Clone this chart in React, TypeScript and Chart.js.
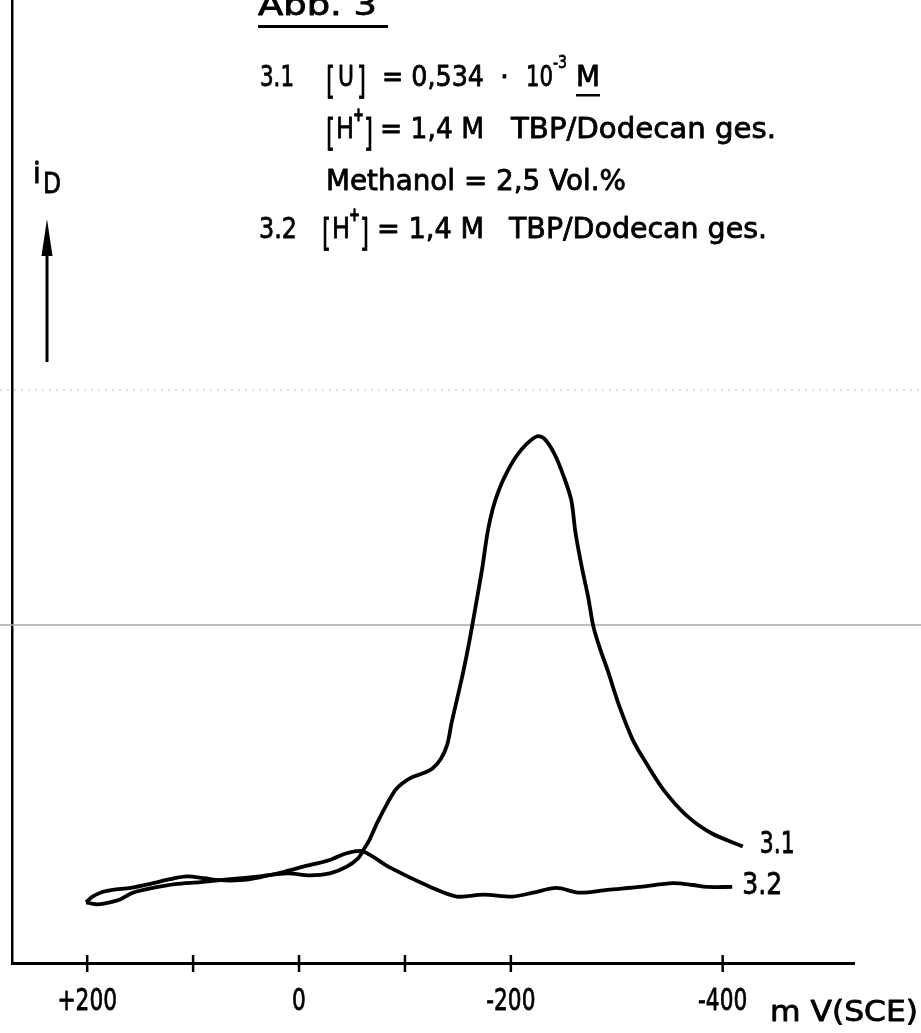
import React, { useEffect, useRef } from 'react';
import { Chart, registerables } from 'chart.js';

Chart.register(...registerables);

const FONT = '"DejaVu Sans", "Liberation Sans", sans-serif';

// Curve 3.1 : potential in mV (SCE) and diffusion current i_D (arbitrary units)
const curve31Potential = [201, 192, 183, 169, 157, 138, 117, 93, 65, 37, 11, -10, -29, -45, -56, -60, -67, -74, -83, -92, -105, -117, -126, -134, -140, -144, -149, -155, -161, -167, -173, -178, -183, -189, -196, -205, -215, -225, -232, -241, -249, -257, -261, -267, -273, -278, -284, -292, -302, -315, -327, -344, -366, -389, -419];
const curve31Current = [6.3, 6.1, 6.2, 6.6, 7.3, 7.8, 8.2, 8.4, 8.7, 9.0, 9.3, 9.1, 9.3, 10.0, 10.9, 11.6, 12.9, 14.6, 16.5, 18.1, 19.2, 19.7, 20.2, 21.2, 22.7, 24.9, 27.3, 30.2, 33.5, 37.2, 41.0, 44.7, 47.2, 49.2, 50.9, 52.6, 53.9, 54.7, 54.4, 52.9, 50.8, 48.1, 44.7, 41.1, 38.0, 34.9, 32.7, 30.2, 26.8, 23.2, 20.9, 18.0, 15.3, 13.5, 12.1];

// Curve 3.2 : blank
const curve32Potential = [201, 195, 185, 176, 159, 141, 122, 106, 89, 75, 56, 37, 13, -4, -29, -45, -60, -86, -124, -149, -174, -202, -221, -243, -265, -291, -322, -353, -372, -385, -409];
const curve32Current = [6.3, 6.9, 7.4, 7.6, 7.8, 8.2, 8.7, 9.0, 8.8, 8.6, 8.6, 8.9, 9.5, 10.0, 10.7, 11.4, 11.6, 9.9, 7.9, 6.9, 7.1, 6.9, 7.3, 7.8, 7.3, 7.6, 7.9, 8.3, 8.1, 7.9, 7.9];

const seriesLabels = ['3.1', '3.2'];
const tickValues = [200, 100, 0, -100, -200, -400];
const tickLabels = ['+200', '', '0', '', '-200', '-400'];
const xUnitLabel = 'm V(SCE)';
const xMin = -524;
const xMax = 271;
const yMin = 0;
const yMax = 100;
// faint scan lines of the original sheet (current units)
const scanLineSolid = 35.1;
const scanLineDotted = 59.5;

function drawText(ctx: CanvasRenderingContext2D, s: string, x: number, y: number, size: number, w?: number, bold?: boolean) {
  ctx.font = `${bold ? 'bold ' : ''}${size}px ${FONT}`;
  ctx.textBaseline = 'alphabetic';
  ctx.textAlign = 'left';
  ctx.lineWidth = 0.8;
  ctx.lineJoin = 'round';
  const m = ctx.measureText(s).width;
  const k = w ? w / m : 1;
  ctx.save();
  ctx.translate(x, y);
  ctx.scale(k, 1);
  ctx.fillText(s, 0, 0);
  ctx.strokeText(s, 0, 0);
  ctx.restore();
}

const decorPlugin = {
  id: 'decor',
  beforeDatasetsDraw(chart: any) {
    const { ctx, scales } = chart;
    const y = scales.y;
    ctx.save();
    ctx.strokeStyle = '#a8a8a8';
    ctx.lineWidth = 1.5;
    const ys = y.getPixelForValue(scanLineSolid);
    ctx.beginPath();
    ctx.moveTo(0, ys);
    ctx.lineTo(chart.width, ys);
    ctx.stroke();
    ctx.strokeStyle = '#c4c4c4';
    ctx.lineWidth = 1;
    ctx.setLineDash([2, 5]);
    const yd = y.getPixelForValue(scanLineDotted);
    ctx.beginPath();
    ctx.moveTo(0, yd);
    ctx.lineTo(chart.width, yd);
    ctx.stroke();
    ctx.restore();
  },
  afterDraw(chart: any) {
    const { ctx, scales, chartArea } = chart;
    const x = scales.x;
    ctx.save();
    ctx.fillStyle = '#000';
    ctx.strokeStyle = '#000';
    // tick marks crossing the axis, and their labels
    x.ticks.forEach((t: any) => {
      const px = x.getPixelForValue(t.value);
      ctx.lineWidth = 2.5;
      ctx.beginPath();
      ctx.moveTo(px, chartArea.bottom - 8);
      ctx.lineTo(px, chartArea.bottom + 9);
      ctx.stroke();
      const idx = tickValues.indexOf(t.value);
      const lab = idx >= 0 ? tickLabels[idx] : '';
      if (lab) {
        ctx.font = `31px ${FONT}`;
        const m = ctx.measureText(lab).width;
        drawText(ctx, lab, px - (m * 0.7) / 2, 1010, 31, m * 0.7);
      }
    });
    // unit label
    drawText(ctx, xUnitLabel, 770, 1021, 28, 148);

    // i_D label and arrow
    drawText(ctx, 'i', 33, 183, 28);
    drawText(ctx, 'D', 43, 193, 28, 18);
    ctx.lineWidth = 3;
    ctx.beginPath();
    ctx.moveTo(47, 362);
    ctx.lineTo(47, 250);
    ctx.stroke();
    ctx.beginPath();
    ctx.moveTo(47, 219);
    ctx.lineTo(41.5, 256);
    ctx.lineTo(52.5, 256);
    ctx.closePath();
    ctx.fill();

    // title
    drawText(ctx, 'Abb. 3', 258, 15, 30, 119);
    ctx.fillRect(258, 25, 130, 3);

    // line 1
    drawText(ctx, '3.1', 260, 86, 28, 34);
    drawText(ctx, '[', 326, 93, 38, 9);
    drawText(ctx, 'U', 338, 86, 28, 16);
    drawText(ctx, ']', 357, 93, 38, 9);
    drawText(ctx, '= 0,534', 382, 86, 28, 102);
    drawText(ctx, '·', 500, 86, 28);
    drawText(ctx, '10', 526, 86, 28, 27);
    drawText(ctx, '-3', 553, 68, 17, 14);
    drawText(ctx, 'M', 576, 86, 28, 24);
    ctx.fillRect(576, 94, 24, 2.5);

    // line 2
    drawText(ctx, '[', 326, 145, 38, 9);
    drawText(ctx, 'H', 336, 138, 28, 18);
    drawText(ctx, '+', 353, 121, 20, 11, true);
    drawText(ctx, ']', 364, 145, 38, 9);
    drawText(ctx, '= 1,4 M', 380, 138, 28, 104);
    drawText(ctx, 'TBP/Dodecan ges.', 511, 138, 28, 265);

    // line 3
    drawText(ctx, 'Methanol = 2,5 Vol.%', 326, 190, 28, 300);

    // line 4
    drawText(ctx, '3.2', 259, 238, 28, 38);
    drawText(ctx, '[', 322, 245, 38, 9);
    drawText(ctx, 'H', 332, 238, 28, 18);
    drawText(ctx, '+', 349, 221, 20, 11, true);
    drawText(ctx, ']', 360, 245, 38, 9);
    drawText(ctx, '= 1,4 M', 377, 238, 28, 107);
    drawText(ctx, 'TBP/Dodecan ges.', 509, 238, 28, 258);

    // curve end labels
    chart.data.datasets.forEach((ds: any, i: number) => {
      const meta = chart.getDatasetMeta(i);
      const last = meta.data[meta.data.length - 1];
      if (!last) return;
      const dx = i === 0 ? 17 : 10;
      drawText(ctx, ds.label, last.x + dx, last.y + 7, 31, i === 0 ? 35 : 40);
    });
    ctx.restore();
  },
};

export default function App() {
  const ref = useRef<HTMLCanvasElement | null>(null);
  useEffect(() => {
    if (!ref.current) return;
    const toPoints = (xs: number[], ys: number[]) => xs.map((v, i) => ({ x: v, y: ys[i] }));
    const chart = new Chart(ref.current, {
      type: 'line',
      data: {
        datasets: [
          {
            label: seriesLabels[0],
            data: toPoints(curve31Potential, curve31Current),
            borderColor: '#000',
            borderWidth: 3.8,
            pointRadius: 0,
            tension: 0.3,
            fill: false,
          },
          {
            label: seriesLabels[1],
            data: toPoints(curve32Potential, curve32Current),
            borderColor: '#000',
            borderWidth: 3.8,
            pointRadius: 0,
            tension: 0.3,
            fill: false,
          },
        ],
      },
      options: {
        animation: false,
        responsive: false,
        events: [],
        layout: { padding: { top: 0, right: 67, bottom: 0, left: 0 } },
        plugins: { legend: { display: false }, tooltip: { enabled: false }, title: { display: false } },
        scales: {
          x: {
            type: 'linear',
            reverse: true,
            min: xMin,
            max: xMax,
            afterFit: (s: any) => { s.height = 70; },
            afterBuildTicks: (s: any) => { s.ticks = tickValues.map((v) => ({ value: v })); },
            grid: { display: false, drawTicks: false },
            border: { display: true, color: '#000', width: 3 },
            ticks: { display: false, autoSkip: false },
          },
          y: {
            type: 'linear',
            min: yMin,
            max: yMax,
            afterFit: (s: any) => { s.width = 12; },
            grid: { display: false, drawTicks: false },
            border: { display: true, color: '#000', width: 2.5 },
            ticks: { display: false },
          },
        },
      },
      plugins: [decorPlugin],
    });
    return () => chart.destroy();
  }, []);
  return (
    <div style={{ position: 'absolute', left: 0, top: 0, width: 921, height: 1033, background: '#fff' }}>
      <canvas ref={ref} width={921} height={1033} style={{ display: 'block' }} />
    </div>
  );
}
